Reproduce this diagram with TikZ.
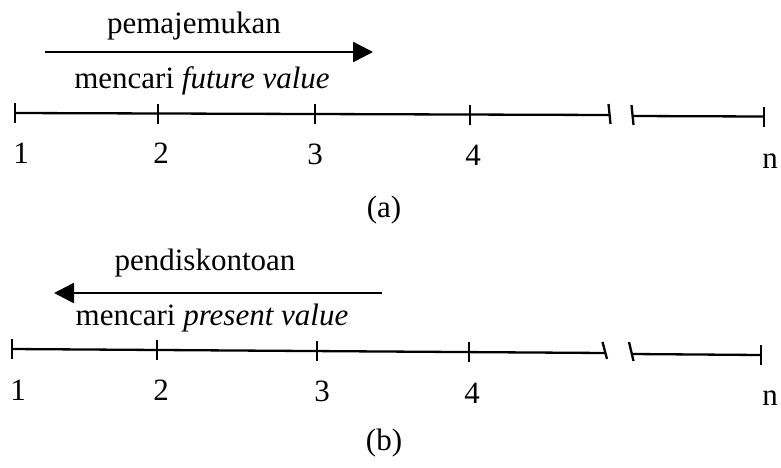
\documentclass[tikz,border=0pt]{standalone}
\usepackage{fontspec}
\setmainfont{Liberation Serif}
\usetikzlibrary{arrows.meta}
\begin{document}
\begin{tikzpicture}[x=1pt,y=-1pt,
  txt/.style={inner sep=0pt,anchor=base,font=\fontsize{31}{36}\selectfont},
  axisline/.style={line width=2.3pt},
  tickmark/.style={line width=2.3pt},
  dirarrow/.style={line width=2.6pt,-{Triangle[length=20pt,width=20pt]}}]
\useasboundingbox (0,0) rectangle (781,467);
% ---------- (a) ----------
\node[txt] (pa) at (194,33) {pemajemukan};
\coordinate (a0) at (45,52);
\coordinate (a1) at (373,52);
\draw[dirarrow] (a0) -- (a1);
\node[txt] (fa) at (202,88) {mencari \textit{future value}};
\coordinate (A1) at (15,113);
\coordinate (A2) at (158,113.5);
\coordinate (A3) at (315,114);
\coordinate (A4) at (470,114.5);
\coordinate (AB) at (609.5,115);
\coordinate (AC) at (632.5,116);
\coordinate (AN) at (764,116.5);
\draw[axisline] (A1) -- (AB);
\draw[axisline] (AC) -- (AN);
\foreach \p in {A1,A2,A3,A4,AN}
  \draw[tickmark] ([yshift=-10pt]\p) -- ([yshift=10pt]\p);
\draw[tickmark] ([xshift=1pt,yshift=-9pt]AB) -- ([xshift=-1pt,yshift=11pt]AB);
\draw[tickmark] ([xshift=1pt,yshift=-9pt]AC) -- ([xshift=-1pt,yshift=11pt]AC);
\node[txt] (la1) at (21,163) {1};
\node[txt] (la2) at (161,163) {2};
\node[txt] (la3) at (315,164) {3};
\node[txt] (la4) at (473,165) {4};
\node[txt] (lan) at (770,168) {n};
\node[txt] (capa) at (384,217) {(a)};
% ---------- (b) ----------
\node[txt] (pb) at (205,270) {pendiskontoan};
\coordinate (b0) at (382,293);
\coordinate (b1) at (54,293);
\draw[dirarrow] (b0) -- (b1);
\node[txt] (fb) at (212,325) {mencari \textit{present value}};
\coordinate (B1) at (12,349);
\coordinate (B2) at (157,350);
\coordinate (B3) at (317,351);
\coordinate (B4) at (469,352);
\coordinate (BB) at (606,353);
\coordinate (BC) at (632,354);
\coordinate (BN) at (761,355);
\draw[axisline] (B1) -- (BB);
\draw[axisline] (BC) -- (BN);
\foreach \p in {B1,B2,B3,B4,BN}
  \draw[tickmark] ([yshift=-10pt]\p) -- ([yshift=10pt]\p);
\draw[tickmark] ([xshift=1pt,yshift=-6pt]BB) -- ([xshift=-3.5pt,yshift=11pt]BB);
\draw[tickmark] ([xshift=1.5pt,yshift=-7pt]BC) -- ([xshift=-3pt,yshift=12pt]BC);
\node[txt] (lb1) at (18,400) {1};
\node[txt] (lb2) at (161,400) {2};
\node[txt] (lb3) at (322,401) {3};
\node[txt] (lb4) at (472,403) {4};
\node[txt] (lbn) at (770,405) {n};
\node[txt] (capb) at (384,450) {(b)};
\end{tikzpicture}
\end{document}
